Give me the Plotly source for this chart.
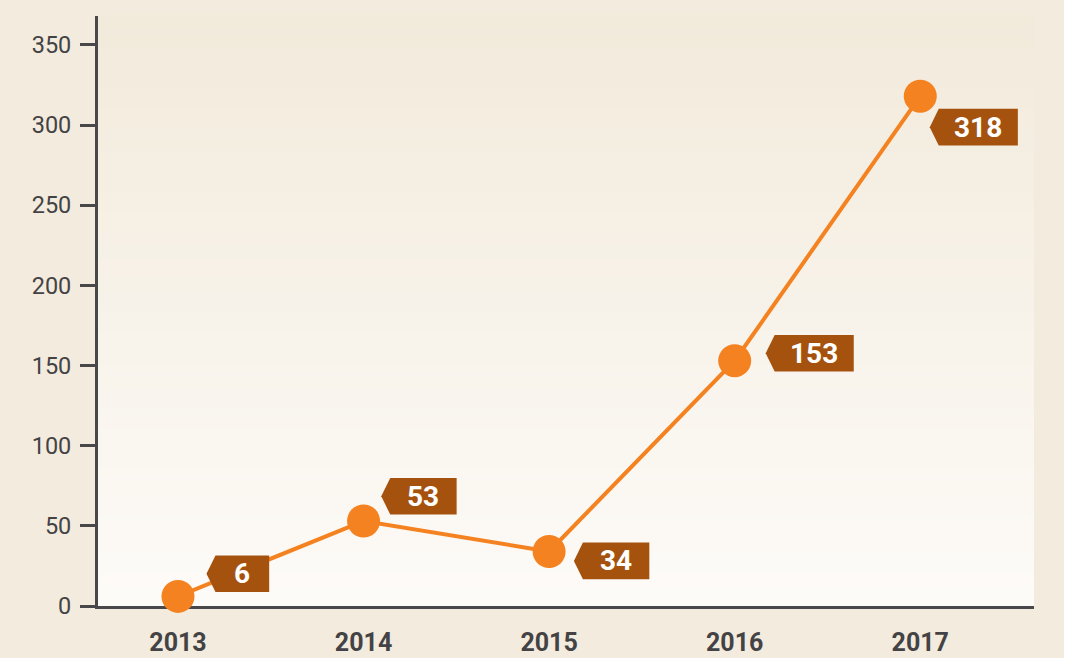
import plotly.graph_objects as go

# ---- data ----
years = [2013, 2014, 2015, 2016, 2017]
values = [6, 53, 34, 153, 318]
labels = ["6", "53", "34", "153", "318"]
y_ticks = [0, 50, 100, 150, 200, 250, 300, 350]

# ---- label tag placement (pixel offsets of the tag tip from each point; +x right, +y up) ----
tag_dx = [28.5, 17.7, 24.8, 31.0, 9.5]
tag_dy = [22.7, 24.8, -9.4, 7.4, -31.0]

ORANGE = "#f58220"
TAG = "#a5520e"
AXIS = "#48484a"
TEXT = "#434345"
PAGE_BG = "#f3ebdd"
TOP = (242, 234, 219)
BOTTOM = (253, 251, 248)

W_FIG, H_FIG = 1075, 658
M_L, M_R, M_T, M_B = 98, 41, 16, 52
PW, PH = W_FIG - M_L - M_R, H_FIG - M_T - M_B
BG_RIGHT = 1064  # beige panel ends here, white strip to the right

fig = go.Figure()
fig.add_trace(go.Scatter(
    x=years, y=values, mode="lines+markers",
    line=dict(color=ORANGE, width=4),
    marker=dict(color=ORANGE, size=33),
    cliponaxis=False, hoverinfo="x+y", showlegend=False,
))

shapes = [dict(
    type="rect", xref="paper", yref="paper",
    x0=-M_L / PW - 0.01, x1=(BG_RIGHT - M_L) / PW,
    y0=-M_B / PH - 0.01, y1=1 + M_T / PH + 0.01,
    fillcolor=PAGE_BG, line=dict(width=0), layer="below",
)]
# vertical gradient of the plot area
N = 90
for i in range(N):
    t = i / (N - 1)
    c = tuple(round(BOTTOM[k] + (TOP[k] - BOTTOM[k]) * t) for k in range(3))
    shapes.append(dict(
        type="rect", xref="x domain", yref="y domain",
        x0=0, x1=1, y0=i / N, y1=(i + 1) / N + 0.002,
        fillcolor="rgb(%d,%d,%d)" % c, line=dict(width=0), layer="below",
    ))

annotations = []
ARROW = 9
HALF_H = 18.3
for yr, v, lab, dx, dy in zip(years, values, labels, tag_dx, tag_dy):
    w = 41 + 12.7 * len(lab)
    x0 = dx
    x1 = dx + ARROW
    x2 = dx + ARROW + w
    path = (f"M {x0},{dy} L {x1},{dy + HALF_H} L {x2},{dy + HALF_H} "
            f"L {x2},{dy - HALF_H} L {x1},{dy - HALF_H} Z")
    shapes.append(dict(
        type="path", xref="x", yref="y", xsizemode="pixel", ysizemode="pixel",
        xanchor=yr, yanchor=v, path=path, fillcolor=TAG,
        line=dict(width=0), layer="above",
    ))
    annotations.append(dict(
        x=yr, y=v, xref="x", yref="y", text=lab, showarrow=False,
        xshift=x1 + w / 2, yshift=dy, xanchor="center", yanchor="middle",
        font=dict(family="Roboto", size=28, color="white", weight="bold"),
    ))

fig.update_layout(
    width=W_FIG, height=H_FIG, autosize=False,
    margin=dict(l=M_L, r=M_R, t=M_T, b=M_B),
    paper_bgcolor="white", plot_bgcolor="rgba(0,0,0,0)",
    shapes=shapes, annotations=annotations,
    font=dict(family="Roboto", color=TEXT),
    xaxis=dict(
        range=[2012.569, 2017.613], tickvals=years, ticktext=[str(y) for y in years],
        showline=True, linecolor=AXIS, linewidth=3, ticks="",
        showgrid=False, zeroline=False, layer="below traces",
        tickfont=dict(family="Roboto", size=25, color=TEXT, weight="bold"),
        ticklabelstandoff=12, fixedrange=True, automargin=False,
    ),
    yaxis=dict(
        range=[0, 368], tickvals=y_ticks,
        showline=True, linecolor=AXIS, linewidth=3,
        ticks="outside", ticklen=15, tickwidth=3, tickcolor=AXIS,
        showgrid=False, zeroline=False, layer="below traces",
        tickfont=dict(family="Roboto", size=23.5, color=TEXT),
        ticklabelstandoff=4, fixedrange=True, automargin=False,
    ),
    hovermode=False,
)

fig.write_html("out.html", config={"displayModeBar": False},
               post_script="document.body.style.margin='0';document.body.style.overflow='hidden';")
